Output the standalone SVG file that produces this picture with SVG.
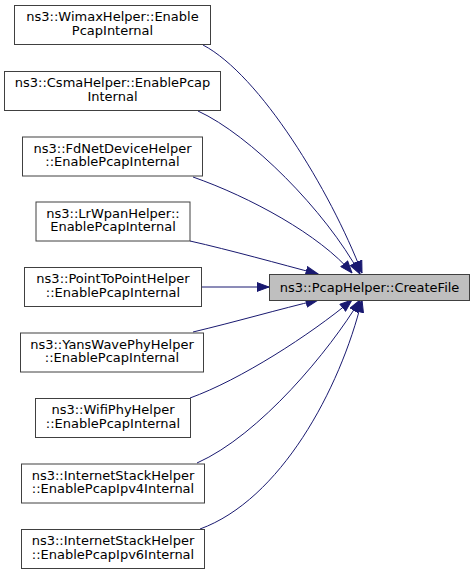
<svg xmlns="http://www.w3.org/2000/svg" width="475" height="575" viewBox="0 0 475 575">
<style>
.n rect{fill:#ffffff;stroke:#404040;stroke-width:1}
.t rect{fill:#bfbfbf;stroke:#404040;stroke-width:1}
text{font-family:"DejaVu Sans",sans-serif;font-size:13px;fill:#000;text-anchor:middle}
.e path{fill:none;stroke:#191970;stroke-width:1}
</style>
<defs>
<marker id="ah" markerUnits="userSpaceOnUse" markerWidth="13" markerHeight="10" refX="12.5" refY="5" orient="auto">
<polygon points="0.5,0.6 12.5,5 0.5,9.4" fill="#191970" stroke="#191970" stroke-width="1"/>
</marker>
</defs>
<rect width="475" height="575" fill="#ffffff"/>
<g class="e" id="edges">
<path d="M203,45 C260,75 330,190 362,273" marker-end="url(#ah)"/>
<path d="M198,111 C250,135 325,210 360,274" marker-end="url(#ah)"/>
<path d="M193,177 C250,197 320,235 352,273" marker-end="url(#ah)"/>
<path d="M190,241 C230,250 280,264 318,274" marker-end="url(#ah)"/>
<path d="M202,287 L269,287" marker-end="url(#ah)"/>
<path d="M193,332 C235,322 280,309 318,300" marker-end="url(#ah)"/>
<path d="M190,398 C240,380 310,335 352,300" marker-end="url(#ah)"/>
<path d="M197,463 C260,435 330,350 360,300" marker-end="url(#ah)"/>
<path d="M200,529 C280,500 340,390 362,300" marker-end="url(#ah)"/>
</g>
<g class="t" id="target"><rect x="269.5" y="274.5" width="200" height="26"/><text x="369.5" y="291.5">ns3::PcapHelper::CreateFile</text></g>
<g class="n" id="n1"><rect x="14.5" y="5.5" width="196" height="39"/><text x="112.5" y="21">ns3::WimaxHelper::Enable</text><text x="112.5" y="34.5">PcapInternal</text></g>
<g class="n" id="n2"><rect x="4.5" y="71.5" width="216" height="39"/><text x="112.5" y="87">ns3::CsmaHelper::EnablePcap</text><text x="112.5" y="100.5">Internal</text></g>
<g class="n" id="n3"><rect x="22.5" y="137" width="180" height="39"/><text x="112.5" y="152.5">ns3::FdNetDeviceHelper</text><text x="112.5" y="166">::EnablePcapInternal</text></g>
<g class="n" id="n4"><rect x="36" y="202" width="154" height="39"/><text x="113" y="217.5">ns3::LrWpanHelper::</text><text x="113" y="231">EnablePcapInternal</text></g>
<g class="n" id="n5"><rect x="24.5" y="267.5" width="177" height="39"/><text x="113" y="283">ns3::PointToPointHelper</text><text x="113" y="296.5">::EnablePcapInternal</text></g>
<g class="n" id="n6"><rect x="20.5" y="333" width="183" height="39"/><text x="112" y="348.5">ns3::YansWavePhyHelper</text><text x="112" y="362">::EnablePcapInternal</text></g>
<g class="n" id="n7"><rect x="35.5" y="398.5" width="155" height="39"/><text x="113" y="414">ns3::WifiPhyHelper</text><text x="113" y="427.5">::EnablePcapInternal</text></g>
<g class="n" id="n8"><rect x="21.5" y="464" width="183" height="39"/><text x="113" y="479.5">ns3::InternetStackHelper</text><text x="113" y="493">::EnablePcapIpv4Internal</text></g>
<g class="n" id="n9"><rect x="21.5" y="529.5" width="183" height="39"/><text x="113" y="545">ns3::InternetStackHelper</text><text x="113" y="558.5">::EnablePcapIpv6Internal</text></g>
</svg>
